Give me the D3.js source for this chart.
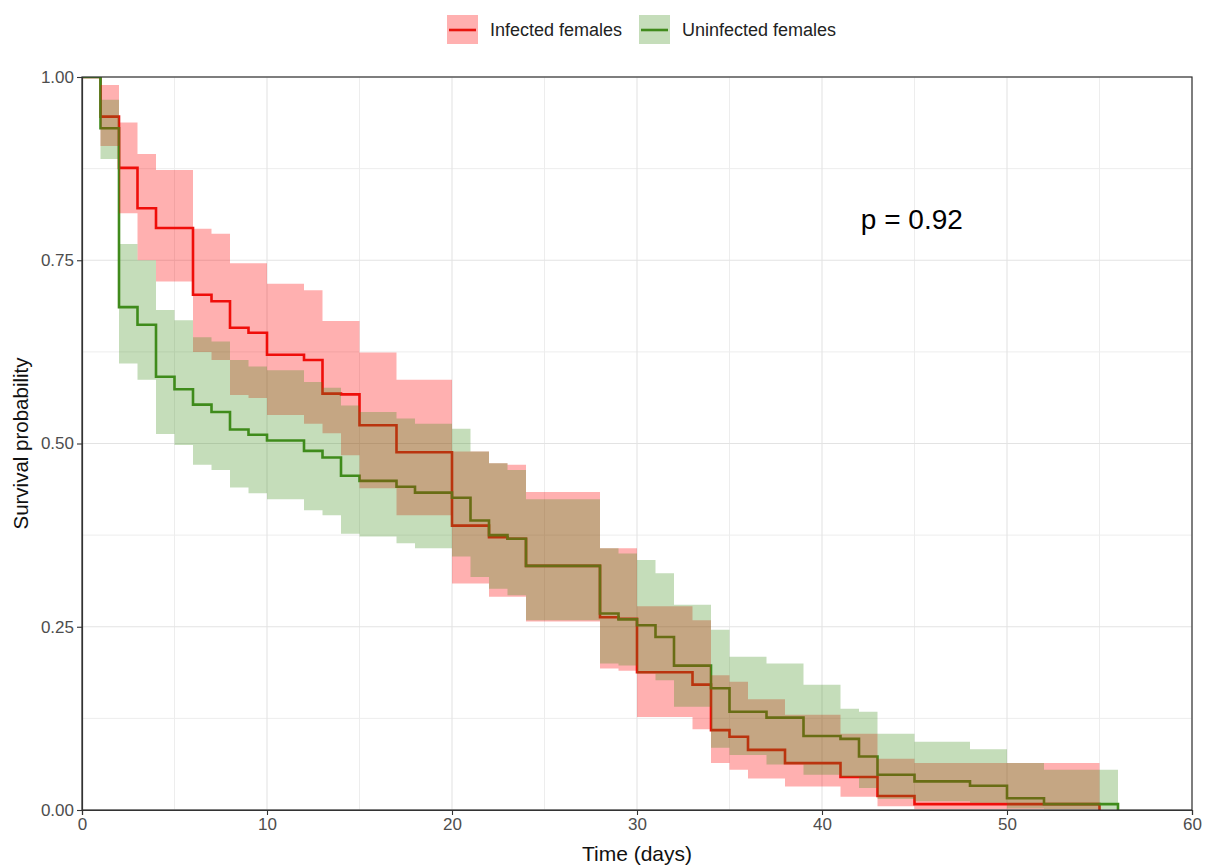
<!DOCTYPE html>
<html><head><meta charset="utf-8">
<script src="https://cdn.jsdelivr.net/npm/d3@7"></script>
<style>body{margin:0;background:#fff;} svg{display:block;font-family:"Liberation Sans",Arial,sans-serif;}</style>
</head><body><svg id="c" width="1212" height="866"></svg>
<script>
// ---- data ----
const seriesNames = ["Infected females", "Uninfected females"];
const infTimes  = [0,1,2,3,4,6,7,8,9,10,12,13,14,15,17,20,22,23,24,28,29,30,33,34,35,36,38,41,43,45,55];
const infSurv   = [1,0.946,0.876,0.821,0.794,0.703,0.694,0.658,0.651,0.621,0.614,0.568,0.567,0.525,0.488,0.388,0.372,0.370,0.333,0.263,0.261,0.188,0.171,0.109,0.100,0.082,0.064,0.045,0.019,0.008,0];
const infUpper  = [1,0.989,0.938,0.895,0.873,0.793,0.786,0.746,0.746,0.718,0.709,0.667,0.667,0.624,0.587,0.489,0.473,0.471,0.434,0.357,0.357,0.278,0.259,0.184,0.175,0.151,0.130,0.104,0.070,0.064,0];
const infLower  = [1,0.906,0.814,0.750,0.721,0.625,0.614,0.566,0.562,0.539,0.527,0.514,0.484,0.439,0.402,0.309,0.291,0.291,0.257,0.193,0.190,0.127,0.110,0.064,0.055,0.043,0.032,0.018,0.005,0.001,0];

const uninfTimes = [0,1,2,3,4,5,6,7,8,9,10,12,13,14,15,17,18,20,21,22,23,24,28,29,30,31,32,34,35,37,39,41,42,43,45,48,50,52,56];
const uninfSurv  = [1,0.930,0.686,0.662,0.591,0.574,0.553,0.543,0.519,0.512,0.504,0.490,0.481,0.456,0.449,0.441,0.433,0.426,0.395,0.375,0.370,0.333,0.268,0.260,0.252,0.236,0.197,0.166,0.134,0.126,0.101,0.097,0.073,0.048,0.039,0.033,0.016,0.008,0];
const uninfUpper = [1,0.969,0.772,0.750,0.682,0.668,0.645,0.639,0.614,0.605,0.600,0.584,0.576,0.552,0.543,0.534,0.527,0.520,0.489,0.473,0.464,0.424,0.357,0.350,0.341,0.323,0.280,0.246,0.209,0.200,0.171,0.138,0.134,0.104,0.093,0.083,0.064,0.055,0];
const uninfLower = [1,0.888,0.609,0.587,0.513,0.498,0.471,0.464,0.440,0.432,0.424,0.409,0.402,0.377,0.373,0.364,0.357,0.346,0.318,0.302,0.293,0.259,0.200,0.197,0.186,0.177,0.141,0.085,0.075,0.062,0.048,0.045,0.030,0.015,0.012,0.010,0.002,0.001,0];

const xTicks = [0,10,20,30,40,50,60];
const yTicks = [0,0.25,0.5,0.75,1];
const yTickLabels = ["0.00","0.25","0.50","0.75","1.00"];
const pvalText = "p = 0.92";
const xTitle = "Time (days)";
const yTitle = "Survival probability";

// ---- layout ----
const svg = d3.select("#c");
const L = 82, R = 1192, T = 77, B = 810;
const x = d3.scaleLinear().domain([0,60]).range([L,R]);
const y = d3.scaleLinear().domain([0,1]).range([B,T]);

const lineCols = ["#E8150F", "#408A1C"];
const fillCols = ["#FF0000", "#3F8F1A"];
const fillOp = [0.31, 0.30];

function mk(times, s, lo, hi){ return times.map((t,i)=>({t, s:s[i], lo:lo[i], hi:hi[i]})); }
const series = [mk(infTimes,infSurv,infLower,infUpper), mk(uninfTimes,uninfSurv,uninfLower,uninfUpper)];

// grid
const grid = svg.append("g");
const minorX = d3.range(5,60,10), minorY = [0.125,0.375,0.625,0.875];
minorX.forEach(v=>grid.append("line").attr("x1",x(v)).attr("x2",x(v)).attr("y1",T).attr("y2",B).attr("stroke","#EDEDED").attr("stroke-width",1));
minorY.forEach(v=>grid.append("line").attr("y1",y(v)).attr("y2",y(v)).attr("x1",L).attr("x2",R).attr("stroke","#EDEDED").attr("stroke-width",1));
xTicks.forEach(v=>grid.append("line").attr("x1",x(v)).attr("x2",x(v)).attr("y1",T).attr("y2",B).attr("stroke","#E3E3E3").attr("stroke-width",1.1));
yTicks.forEach(v=>grid.append("line").attr("y1",y(v)).attr("y2",y(v)).attr("x1",L).attr("x2",R).attr("stroke","#E3E3E3").attr("stroke-width",1.1));

svg.append("clipPath").attr("id","pc").append("rect").attr("x",L).attr("y",T).attr("width",R-L).attr("height",B-T);
const plot = svg.append("g").attr("clip-path","url(#pc)");

const line = d3.line().curve(d3.curveStepAfter).x(d=>x(d.t)).y(d=>y(d.s));
const area = d3.area().curve(d3.curveStepAfter).x(d=>x(d.t)).y0(d=>y(d.lo)).y1(d=>y(d.hi));

series.forEach((d,i)=>plot.append("path").datum(d).attr("d",line).attr("fill","none").attr("stroke",lineCols[i]).attr("stroke-width",2.6));
series.forEach((d,i)=>plot.append("path").datum(d).attr("d",area).attr("fill",fillCols[i]).attr("fill-opacity",fillOp[i]).attr("stroke","none"));

// border
svg.append("rect").attr("x",L).attr("y",T).attr("width",R-L).attr("height",B-T).attr("fill","none").attr("stroke","#333").attr("stroke-width",1.2);

// axes
const ax = svg.append("g").attr("transform",`translate(0,${B})`).call(d3.axisBottom(x).tickValues(xTicks).tickSize(5).tickPadding(3).tickFormat(d3.format("d")));
const ay = svg.append("g").attr("transform",`translate(${L},0)`).call(d3.axisLeft(y).tickValues(yTicks).tickSize(5).tickPadding(3).tickFormat((d,i)=>yTickLabels[i]));
[ax,ay].forEach(a=>{a.select(".domain").attr("stroke","#333").attr("stroke-width",1.2);
  a.selectAll(".tick line").attr("stroke","#333").attr("stroke-width",1.1);
  a.selectAll("text").attr("fill","#4D4D4D").style("font-size","17px").style("font-family","'Liberation Sans',Arial,sans-serif");});

// titles
svg.append("text").attr("x",(L+R)/2).attr("y",861).attr("text-anchor","middle").attr("font-size","21px").attr("fill","#111").text(xTitle);
svg.append("text").attr("transform",`translate(28,${(T+B)/2}) rotate(-90)`).attr("text-anchor","middle").attr("font-size","20.5px").attr("fill","#111").text(yTitle);

// p value
svg.append("text").attr("x",x(42.1)).attr("y",229).attr("font-size","28px").attr("fill","#000").text(pvalText);

// legend
const lg = svg.append("g");
const keyX = [447, 639], textX = [490, 682];
seriesNames.forEach((n,i)=>{
  lg.append("rect").attr("x",keyX[i]).attr("y",15).attr("width",31).attr("height",29).attr("fill",fillCols[i]).attr("fill-opacity",fillOp[i]);
  lg.append("line").attr("x1",keyX[i]+2).attr("x2",keyX[i]+29).attr("y1",30).attr("y2",30).attr("stroke",lineCols[i]).attr("stroke-width",2.6);
  lg.append("text").attr("x",textX[i]).attr("y",36).attr("font-size","18px").attr("fill","#222").text(n);
});
</script></body></html>
